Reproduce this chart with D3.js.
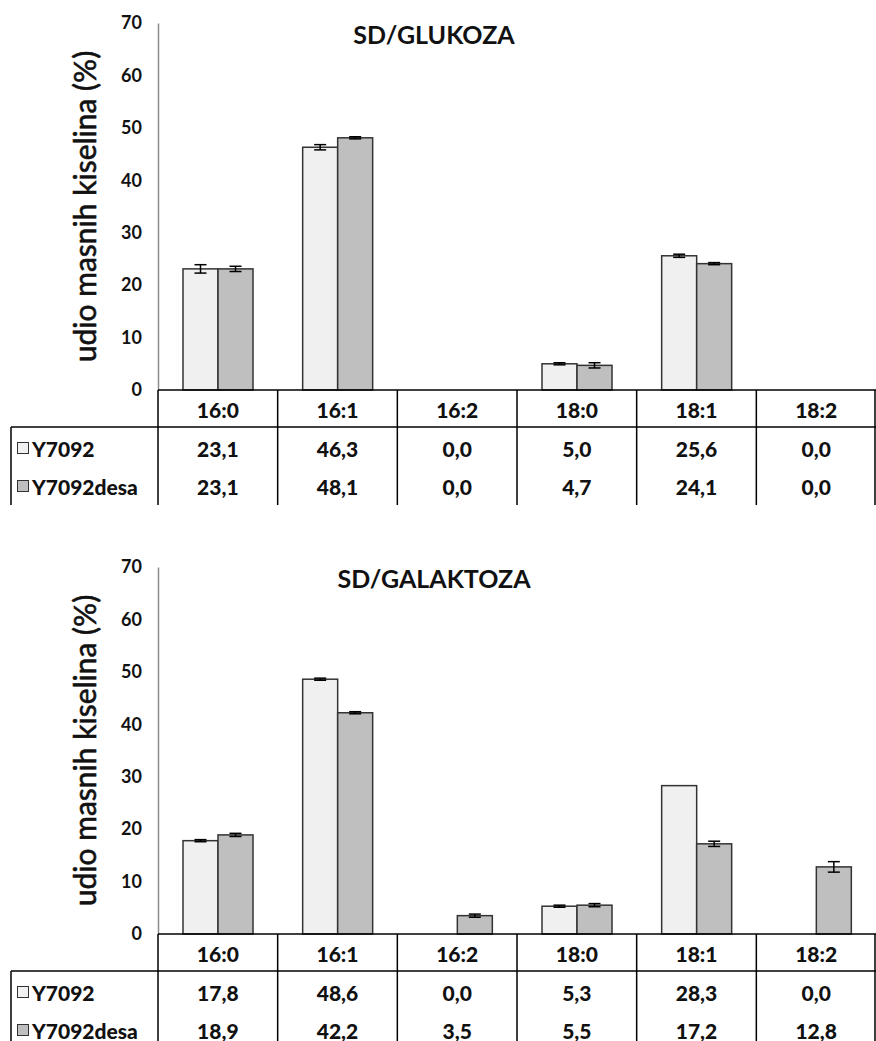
<!DOCTYPE html>
<head>
    <meta charset="utf-8">
    <title>Udio masnih kiselina</title>
    <script src="https://cdn.jsdelivr.net/npm/d3@7"></script>
    <style>
        body { margin: 0; background: #fff; }
        svg text { font-family: Lato, "Open Sans", sans-serif; fill: #111; }
    </style>
</head>
<body>
<svg id="chart" width="876" height="1041"></svg>

<script type="text/javascript">
    // data
    const categories = ['16:0', '16:1', '16:2', '18:0', '18:1', '18:2'];
    const seriesNames = ['Y7092', 'Y7092desa'];
    const yTicks = [0, 10, 20, 30, 40, 50, 60, 70];

    const glukozaY7092 = [23.1, 46.3, 0.0, 5.0, 25.6, 0.0];
    const glukozaDesa = [23.1, 48.1, 0.0, 4.7, 24.1, 0.0];
    const glukozaErrY7092 = [0.8, 0.5, 0, 0.2, 0.3, 0];
    const glukozaErrDesa = [0.5, 0.2, 0, 0.5, 0.2, 0];

    const galaktozaY7092 = [17.8, 48.6, 0.0, 5.3, 28.3, 0.0];
    const galaktozaDesa = [18.9, 42.2, 3.5, 5.5, 17.2, 12.8];
    const galaktozaErrY7092 = [0.2, 0.2, 0, 0.2, 0, 0];
    const galaktozaErrDesa = [0.3, 0.2, 0.3, 0.3, 0.5, 1.0];

    const fills = {'Y7092': '#f0f0f0', 'Y7092desa': '#bfbfbf'};
    const fmt = v => v.toFixed(1).replace('.', ',');

    const svg = d3.select('#chart');

    const x = d3.scaleBand()
        .domain(categories)
        .range([158, 876]);
    const xs = d3.scaleBand()
        .domain(seriesNames)
        .range([25, 95]);

    function drawPanel(title, top, zeroY, vals1, vals2, err1, err2) {
        const y = d3.scaleLinear()
            .domain([0, 70])
            .range([zeroY, top]);

        const g = svg.append('g');

        /// y axis
        const axis = g.append('g')
            .attr('transform', 'translate(158,0)')
            .call(d3.axisLeft(y).tickValues(yTicks).tickSize(0).tickPadding(16).tickSizeOuter(0));
        axis.select('.domain').attr('stroke', '#8c8c8c').attr('stroke-width', 1.5);
        axis.selectAll('text')
            .style('font-size', '18px')
            .style('font-weight', 'bold')
            .style('font-family', 'Lato, sans-serif')
            .attr('fill', '#1a1a2e');

        g.append('text')
            .attr('transform', `translate(84,${(top + zeroY) / 2}) rotate(-90)`)
            .attr('text-anchor', 'middle')
            .attr('dominant-baseline', 'central')
            .style('font-size', '30px')
            .style('font-weight', 'normal')
            .attr('stroke', '#111')
            .attr('stroke-width', 0.6)
            .text('udio masnih kiselina (%)');

        g.append('text')
            .attr('x', 434)
            .attr('y', top + 11)
            .attr('text-anchor', 'middle')
            .attr('dominant-baseline', 'central')
            .style('font-size', '25px')
            .style('font-weight', 'bold')
            .text(title);

        const rows = categories.map((c, i) => ({
            cat: c,
            bars: [
                {s: 'Y7092', v: vals1[i], e: err1[i]},
                {s: 'Y7092desa', v: vals2[i], e: err2[i]}
            ]
        }));

        const groups = g.selectAll('g.cat')
            .data(rows)
            .join('g')
            .attr('class', 'cat')
            .attr('transform', d => `translate(${x(d.cat)},0)`);

        groups.selectAll('rect')
            .data(d => d.bars.filter(b => b.v > 0))
            .join('rect')
            .attr('x', b => xs(b.s))
            .attr('y', b => y(b.v))
            .attr('width', xs.bandwidth())
            .attr('height', b => zeroY - y(b.v))
            .attr('fill', b => fills[b.s])
            .attr('stroke', '#333')
            .attr('stroke-width', 1.5);

        /// error bars
        const eb = groups.selectAll('g.err')
            .data(d => d.bars.filter(b => b.v > 0 && b.e > 0))
            .join('g')
            .attr('class', 'err')
            .attr('transform', b => `translate(${xs(b.s) + xs.bandwidth() / 2},0)`);
        eb.append('line')
            .attr('y1', b => y(b.v - b.e)).attr('y2', b => y(b.v + b.e))
            .attr('stroke', '#000').attr('stroke-width', 1.5);
        eb.selectAll('line.cap')
            .data(b => [b.v - b.e, b.v + b.e])
            .join('line')
            .attr('class', 'cap')
            .attr('x1', -6).attr('x2', 6)
            .attr('y1', v => y(v)).attr('y2', v => y(v))
            .attr('stroke', '#000').attr('stroke-width', 1.5);

        /// data table
        const headBottom = zeroY + 37;
        const tableBottom = zeroY + 115;
        const t = g.append('g').attr('stroke', '#000').attr('stroke-width', 1.5);
        t.append('line').attr('x1', 158).attr('x2', 876).attr('y1', zeroY).attr('y2', zeroY);
        t.append('line').attr('x1', 11).attr('x2', 876).attr('y1', headBottom).attr('y2', headBottom);
        t.append('line').attr('x1', 11).attr('x2', 11).attr('y1', headBottom).attr('y2', tableBottom);
        t.selectAll('line.div')
            .data(categories.concat(['end']))
            .join('line')
            .attr('class', 'div')
            .attr('x1', d => d === 'end' ? 875 : x(d))
            .attr('x2', d => d === 'end' ? 875 : x(d))
            .attr('y1', zeroY).attr('y2', tableBottom);

        const cellText = (txt, cx, cy, anchor) => g.append('text')
            .attr('x', cx).attr('y', cy)
            .attr('text-anchor', anchor || 'middle')
            .attr('dominant-baseline', 'central')
            .style('font-size', '21px')
            .style('font-weight', '900')
            .text(txt);

        categories.forEach((c, i) => {
            const cx = x(c) + x.bandwidth() / 2;
            cellText(c, cx, zeroY + 19);
            cellText(fmt(vals1[i]), cx, zeroY + 58);
            cellText(fmt(vals2[i]), cx, zeroY + 96);
        });

        seriesNames.forEach((s, i) => {
            const cy = zeroY + 58 + i * 38;
            g.append('rect')
                .attr('x', 17.5).attr('y', cy - 5.5)
                .attr('width', 11).attr('height', 11)
                .attr('fill', fills[s]).attr('stroke', '#333').attr('stroke-width', 1);
            cellText(s, 32, cy, 'start');
        });
    }

    drawPanel('SD/GLUKOZA', 23, 390, glukozaY7092, glukozaDesa, glukozaErrY7092, glukozaErrDesa);
    drawPanel('SD/GALAKTOZA', 567, 934, galaktozaY7092, galaktozaDesa, galaktozaErrY7092, galaktozaErrDesa);
</script>
</body>
